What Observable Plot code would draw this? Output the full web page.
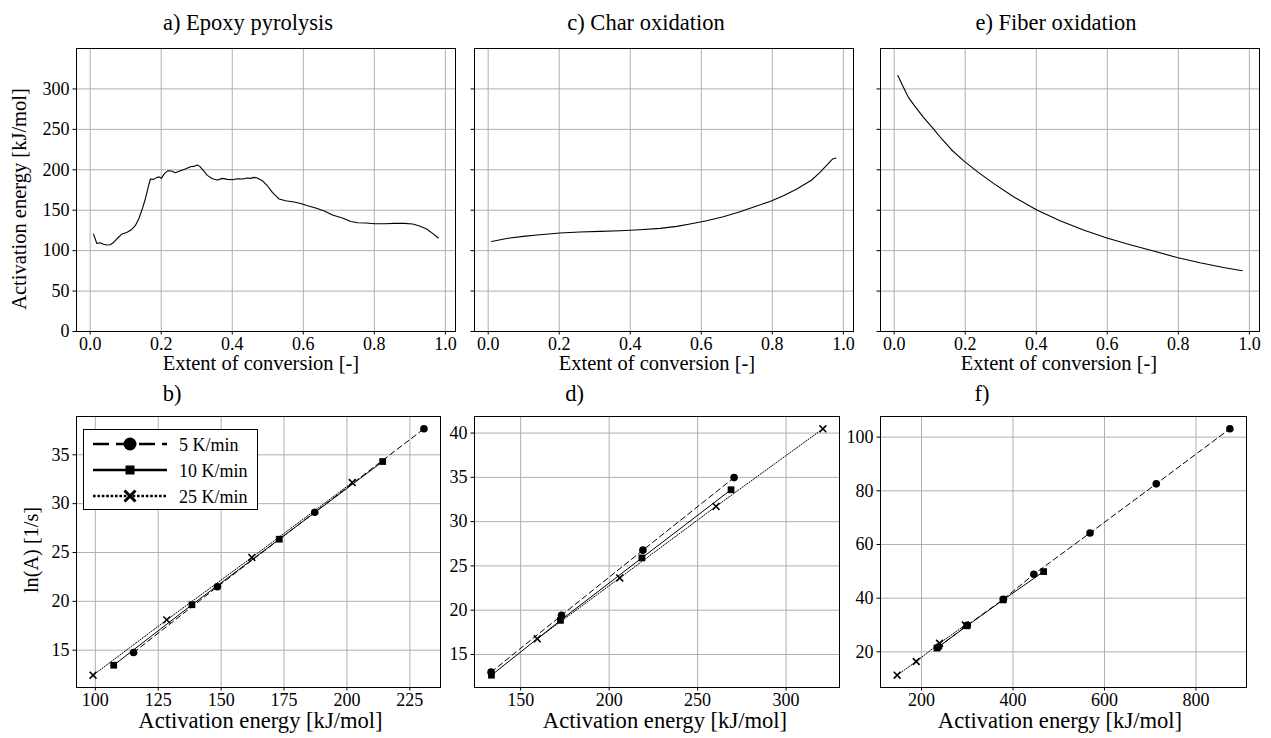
<!DOCTYPE html>
<html><head><meta charset="utf-8">
<script src="https://cdn.jsdelivr.net/npm/d3@7"></script>
<script src="https://cdn.jsdelivr.net/npm/@observablehq/plot@0.6"></script>
<style>
body{margin:0;background:#fff;}
#fig{position:relative;width:1271px;height:738px;overflow:hidden;background:#fff;font-family:"Liberation Serif",serif;}
#fig svg, #fig svg text{font-family:"Liberation Serif",serif !important;}
#overlay{position:absolute;left:0;top:0;}
</style></head><body><div id="fig"></div>
<script>
// ---------- DATA ----------
// a) Epoxy pyrolysis: extent of conversion vs activation energy
const epoxyAlpha = [0.0094,0.0188,0.0283,0.0374,0.0471,0.0564,0.0658,0.0754,0.089,0.103,0.117,0.127,0.1366,0.1457,0.1553,0.1629,0.1695,0.179,0.188,0.1948,0.2003,0.2096,0.2195,0.2286,0.2398,0.2539,0.268,0.2822,0.2913,0.3015,0.3085,0.3207,0.3298,0.344,0.3581,0.3723,0.3864,0.4006,0.4148,0.4284,0.4421,0.4518,0.4613,0.4704,0.4846,0.4987,0.5129,0.522,0.532,0.550,0.574,0.593,0.612,0.635,0.659,0.682,0.710,0.734,0.753,0.777,0.800,0.829,0.856,0.884,0.908,0.927,0.946,0.964,0.980];
const epoxyE = [120.5,108.9,109.8,108,106.9,107.3,110.1,114.7,120.5,122.5,126.2,130.8,139.1,150.2,163.9,177.5,188.6,188.1,190.6,191.1,189.4,195.5,198.9,198.5,196.4,198.9,201,203.8,204.2,205.9,204.2,198,193.1,189,187.4,189.4,188.1,187.7,189,188.6,189.9,189.4,190.6,189.9,186.5,180.3,172,168,163.9,161.8,160.1,158.4,155.6,152.7,149,144,140.3,136.1,134.5,134.1,133.3,133.3,133.7,133.7,132.9,130.4,127.1,121.3,115.6];
// c) Char oxidation
const charAlpha = [0.0096,0.052,0.0986,0.1456,0.202,0.258,0.315,0.371,0.427,0.484,0.531,0.568,0.615,0.662,0.709,0.756,0.7935,0.831,0.869,0.911,0.934,0.958,0.970,0.979];
const charE = [111.4,115.1,117.6,119.7,121.8,123,123.8,124.6,125.9,127.5,130,132.9,137,142,148.1,155.2,160.9,167.9,176.2,187.4,196.8,207.9,213.4,214.6];
// e) Fiber oxidation
const fiberAlpha = [0.0104,0.026,0.040,0.059,0.0826,0.1106,0.134,0.162,0.195,0.233,0.2795,0.336,0.4016,0.467,0.533,0.599,0.664,0.730,0.796,0.861,0.927,0.980];
const fiberE = [316.5,302,289.6,278.1,264.9,250.5,238.1,224.5,211.3,198,183.2,166.7,150.2,137,125.5,115.6,107.3,99.5,91.6,85,79.2,75.1];

// heating rates (legend)
const rates = ["5 K/min", "10 K/min", "25 K/min"];
// b) Epoxy: ln(A) vs Ea
const bE5 = [115.2,148.5,187.2,230.6],  bA5 = [14.76,21.49,29.12,37.66];
const bE10 = [107.3,138.4,173.1,214.2], bA10 = [13.46,19.65,26.36,34.31];
const bE25 = [99.1,128.4,162.2,202.1],  bA25 = [12.44,18.1,24.49,32.16];
// d) Char
const dE5 = [133.3,173.1,219.1,270.6],  dA5 = [13.0,19.42,26.78,34.97];
const dE10 = [133.5,172.5,218.5,268.9], dA10 = [12.66,18.85,25.9,33.6];
const dE25 = [159.4,206.0,260.4,320.8], dA25 = [16.77,23.64,31.72,40.48];
// f) Fiber
const fE5 = [237,300,379,445.6,568.4,713.2,874.1], fA5 = [21.8,29.9,39.6,48.9,64.3,82.6,103.1];
const fE10 = [233.7,299.6,378.5,466.9], fA10 = [21.4,29.7,39.35,49.9];
const fE25 = [146.7,188.4,239.5,295.8], fA25 = [11.3,16.4,23.2,30.0];

// tick values
const alphaTicks = [0,0.2,0.4,0.6,0.8,1.0];
const energyTicks = [0,50,100,150,200,250,300];
const bXTicks = [100,125,150,175,200,225], bYTicks = [15,20,25,30,35];
const dXTicks = [150,200,250,300], dYTicks = [15,20,25,30,35,40];
const fXTicks = [200,400,600,800], fYTicks = [20,40,60,80,100];

// ---------- DRAWING ----------
const FONT = '"Liberation Serif", serif';
const fig = document.getElementById("fig");
const pts = (xs, ys) => xs.map((x, i) => ({x, y: ys[i]}));
function padDomain(arrs) {
  const all = arrs.flat();
  const lo = d3.min(all), hi = d3.max(all), m = (hi - lo) * 0.05;
  return [lo - m, hi + m];
}

function panel({frame: [L, T, R, B], xDomain, yDomain, xTicks, yTicks, yLabels = true, xFormat, marks}) {
  const mL = 50, mR = 8, mT = 8, mB = 30;
  const p = Plot.plot({
    width: R - L + mL + mR, height: B - T + mT + mB,
    marginLeft: mL, marginRight: mR, marginTop: mT, marginBottom: mB,
    style: {fontFamily: FONT, fontSize: "18px", background: "transparent", color: "black", overflow: "visible"},
    x: {domain: xDomain}, y: {domain: yDomain},
    marks: [
      Plot.gridX(xTicks, {stroke: "#b0b0b0", strokeOpacity: 1, strokeWidth: 1}),
      Plot.gridY(yTicks, {stroke: "#b0b0b0", strokeOpacity: 1, strokeWidth: 1}),
      ...marks,
      Plot.frame({stroke: "black", strokeWidth: 1}),
      Plot.axisX(xTicks, {tickSize: 3.5, tickPadding: 2, tickFormat: xFormat, label: null, fontSize: 18}),
      Plot.axisY(yTicks, {tickSize: 3.5, tickPadding: 3.5, tickFormat: yLabels ? (d => String(d)) : (() => ""), label: null, fontSize: 18})
    ]
  });
  p.style.position = "absolute";
  p.style.left = (L - mL) + "px";
  p.style.top = (T - mT) + "px";
  fig.appendChild(p);
}

const topX = [-0.0385, 1.0285], topY = [0, 350];
const f1 = d3.format(".1f");
const curve = (xs, ys) => Plot.line(pts(xs, ys), {x: "x", y: "y", stroke: "black", strokeWidth: 1.1});
panel({frame: [76, 48, 455, 331], xDomain: topX, yDomain: topY, xTicks: alphaTicks, yTicks: energyTicks, xFormat: f1, marks: [curve(epoxyAlpha, epoxyE)]});
panel({frame: [474, 48, 853, 331], xDomain: topX, yDomain: topY, xTicks: alphaTicks, yTicks: energyTicks, yLabels: false, xFormat: f1, marks: [curve(charAlpha, charE)]});
panel({frame: [880, 48, 1259, 331], xDomain: topX, yDomain: topY, xTicks: alphaTicks, yTicks: energyTicks, yLabels: false, xFormat: f1, marks: [curve(fiberAlpha, fiberE)]});

function seriesMarks(E5, A5, E10, A10, E25, A25) {
  return [
    Plot.line(pts(E5, A5), {x: "x", y: "y", stroke: "black", strokeWidth: 1, strokeDasharray: "5.5,3.5"}),
    Plot.line(pts(E10, A10), {x: "x", y: "y", stroke: "black", strokeWidth: 1}),
    Plot.line(pts(E25, A25), {x: "x", y: "y", stroke: "black", strokeWidth: 1, strokeDasharray: "1.2,1.6"}),
    Plot.dot(pts(E5, A5), {x: "x", y: "y", symbol: "circle", r: 3.8, fill: "black", stroke: "none"}),
    Plot.dot(pts(E10, A10), {x: "x", y: "y", symbol: "square", r: 3.8, fill: "black", stroke: "none"}),
    Plot.dot(pts(E25, A25), {x: "x", y: "y", symbol: "times", r: 3.2, stroke: "black", strokeWidth: 1.6})
  ];
}
const intF = d => String(d);
panel({frame: [76, 416, 440, 687], xDomain: padDomain([bE5, bE10, bE25]), yDomain: padDomain([bA5, bA10, bA25]), xTicks: bXTicks, yTicks: bYTicks, xFormat: intF, marks: seriesMarks(bE5, bA5, bE10, bA10, bE25, bA25)});
panel({frame: [474, 416, 839, 687], xDomain: padDomain([dE5, dE10, dE25]), yDomain: padDomain([dA5, dA10, dA25]), xTicks: dXTicks, yTicks: dYTicks, xFormat: intF, marks: seriesMarks(dE5, dA5, dE10, dA10, dE25, dA25)});
panel({frame: [880, 416, 1246, 687], xDomain: padDomain([fE5, fE10, fE25]), yDomain: padDomain([fA5, fA10, fA25]), xTicks: fXTicks, yTicks: fYTicks, xFormat: intF, marks: seriesMarks(fE5, fA5, fE10, fA10, fE25, fA25)});

// ---------- TEXT OVERLAY & LEGEND ----------
const NS = "http://www.w3.org/2000/svg";
const ov = document.createElementNS(NS, "svg");
ov.setAttribute("id", "overlay");
ov.setAttribute("width", 1271); ov.setAttribute("height", 738);
ov.setAttribute("font-family", FONT);
fig.appendChild(ov);
function el(tag, attrs, text) {
  const e = document.createElementNS(NS, tag);
  for (const k in attrs) e.setAttribute(k, attrs[k]);
  if (text != null) e.textContent = text;
  ov.appendChild(e);
  return e;
}
const titles = [["a) Epoxy pyrolysis", 248, 29.5], ["c) Char oxidation", 646, 29.5], ["e) Fiber oxidation", 1056, 29.5],
                ["b)", 172, 401], ["d)", 574.5, 401], ["f)", 982, 401]];
for (const [t, x, y] of titles) el("text", {x, y, "text-anchor": "middle", "font-size": "22.5px", fill: "black"}, t);
for (const x of [261, 657, 1059]) el("text", {x, y: 369.5, "text-anchor": "middle", "font-size": "20.5px"}, "Extent of conversion [-]");
for (const x of [260.5, 665, 1060]) el("text", {x, y: 728, "text-anchor": "middle", "font-size": "22.6px"}, "Activation energy [kJ/mol]");
el("text", {transform: "translate(25.5,199) rotate(-90)", "text-anchor": "middle", "font-size": "20.5px"}, "Activation energy [kJ/mol]");
el("text", {transform: "translate(37.5,550) rotate(-90)", "text-anchor": "middle", "font-size": "20.3px"}, "ln(A) [1/s]");

// legend
el("rect", {x: 83.5, y: 429.5, width: 174, height: 80, fill: "white", stroke: "black", "stroke-width": 1});
const rowY = [444, 470, 496];
el("line", {x1: 93, x2: 167, y1: rowY[0], y2: rowY[0], stroke: "black", "stroke-width": 2.6, "stroke-dasharray": "16,7"});
el("circle", {cx: 130, cy: rowY[0], r: 6.5, fill: "black"});
el("line", {x1: 93, x2: 167, y1: rowY[1], y2: rowY[1], stroke: "black", "stroke-width": 2.6});
el("rect", {x: 125.5, y: rowY[1] - 4.5, width: 9, height: 9, fill: "black"});
el("line", {x1: 93, x2: 167, y1: rowY[2], y2: rowY[2], stroke: "black", "stroke-width": 2.6, "stroke-dasharray": "2.6,1.8"});
el("path", {d: `M124.5,${rowY[2]-5.5}L135.5,${rowY[2]+5.5}M124.5,${rowY[2]+5.5}L135.5,${rowY[2]-5.5}`, stroke: "black", "stroke-width": 3, fill: "none"});
rates.forEach((r, i) => el("text", {x: 179, y: rowY[i] + 6.5, "font-size": "18px"}, r));
</script></body></html>
